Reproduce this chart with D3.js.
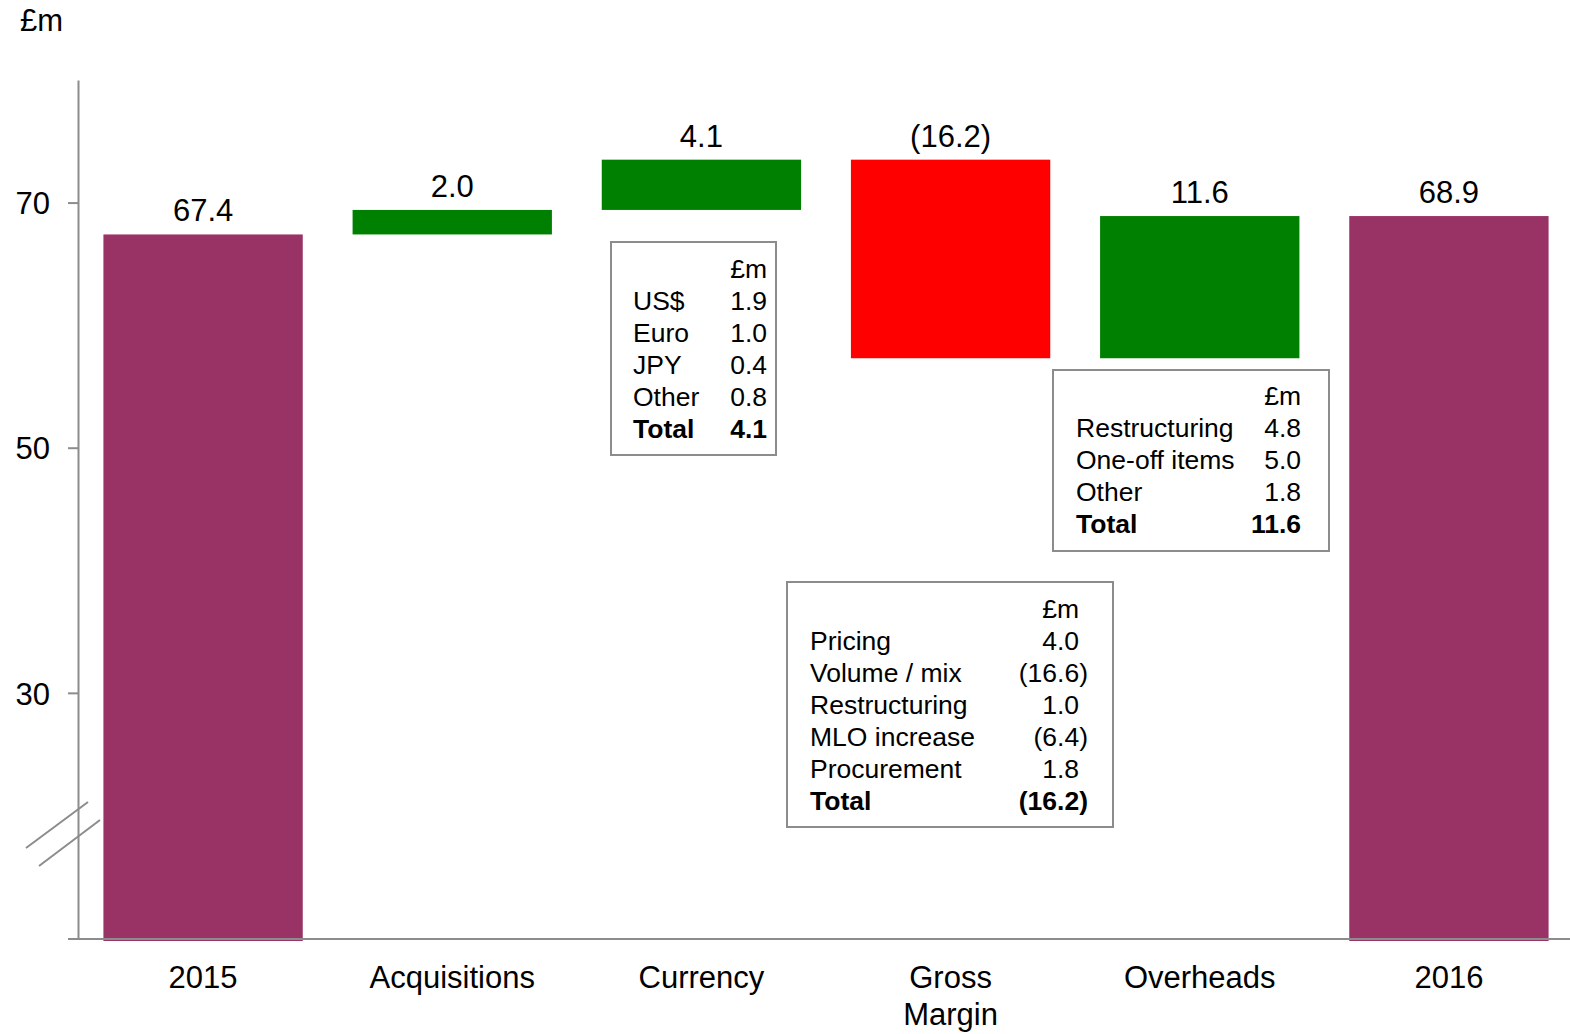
<!DOCTYPE html>
<html>
<head>
<meta charset="utf-8">
<script src="https://cdn.jsdelivr.net/npm/d3@7"></script>
<style>
  html, body { margin: 0; padding: 0; background: #fff; }
  svg { display: block; font-family: "Liberation Sans", Arial, sans-serif; }
</style>
</head>
<body>
<svg id="chart" width="1570" height="1034"></svg>
<script>
// ---- data ----
const categories = ["2015", "Acquisitions", "Currency", "Gross Margin", "Overheads", "2016"];
const startValue = 67.4;
const deltas = [2.0, 4.1, -16.2, 11.6];
const endValue = 68.9;
const yTicks = [30, 50, 70];
const yDomain = [10, 80];
const unitLabel = "£m";

const currencyItems = ["US$", "Euro", "JPY", "Other"];
const currencyValues = [1.9, 1.0, 0.4, 0.8];
const currencyTotal = 4.1;

const grossItems = ["Pricing", "Volume / mix", "Restructuring", "MLO increase", "Procurement"];
const grossValues = [4.0, -16.6, 1.0, -6.4, 1.8];
const grossTotal = -16.2;

const overheadItems = ["Restructuring", "One-off items", "Other"];
const overheadValues = [4.8, 5.0, 1.8];
const overheadTotal = 11.6;

// ---- colours ----
const colTotal = "#993366", colUp = "#008000", colDown = "#ff0000", colAxis = "#8c8c8c";

// ---- build waterfall rows ----
const rows = [];
let run = startValue;
rows.push({cat: categories[0], lo: yDomain[0], hi: startValue, label: startValue, color: colTotal, total: true});
deltas.forEach((d, i) => {
  const a = run, b = run + d;
  rows.push({cat: categories[i + 1], lo: Math.min(a, b), hi: Math.max(a, b), label: d, color: d >= 0 ? colUp : colDown, total: false});
  run = b;
});
rows.push({cat: categories[5], lo: yDomain[0], hi: endValue, label: endValue, color: colTotal, total: true});

const fmt = v => v < 0 ? "(" + Math.abs(v).toFixed(1) + ")" : v.toFixed(1);

const svg = d3.select("#chart");
const W = 1570;

const x = d3.scaleBand().domain(categories).range([78.5, 1573.5]).paddingInner(0.2).paddingOuter(0.1);
const y = d3.scaleLinear().domain(yDomain).range([938, 80]);

// unit label
svg.append("text").attr("x", 20).attr("y", 31).attr("font-size", 31).attr("fill", "#000").text(unitLabel);

// bars
svg.append("g").selectAll("rect").data(rows).join("rect")
  .attr("x", d => x(d.cat))
  .attr("width", x.bandwidth())
  .attr("y", d => y(d.hi))
  .attr("height", d => y(d.lo) - y(d.hi) + (d.total ? 3 : 0))
  .attr("fill", d => d.color);

// value labels
svg.append("g").selectAll("text").data(rows).join("text")
  .attr("x", d => x(d.cat) + x.bandwidth() / 2)
  .attr("y", d => y(d.hi) - 13)
  .attr("text-anchor", "middle")
  .attr("font-size", 31)
  .attr("fill", "#000")
  .text(d => fmt(d.label));

// y axis
const yAxis = d3.axisLeft(y).tickValues(yTicks).tickSize(10).tickSizeOuter(0).tickPadding(18).tickFormat(d3.format("d"));
const gy = svg.append("g").attr("transform", "translate(78,0)").call(yAxis);
gy.select(".domain").attr("stroke", colAxis).attr("stroke-width", 2);
gy.selectAll(".tick line").attr("stroke", colAxis).attr("stroke-width", 2);
gy.selectAll(".tick text").attr("font-size", 31).attr("fill", "#000").attr("font-family", "Liberation Sans, Arial, sans-serif").attr("dy", "0.36em");

// baseline
svg.append("line").attr("x1", 68).attr("x2", W).attr("y1", y(yDomain[0]) + 1).attr("y2", y(yDomain[0]) + 1)
  .attr("stroke", colAxis).attr("stroke-width", 2);

// axis break marks
const brk = svg.append("g").attr("stroke", colAxis).attr("stroke-width", 2);
brk.append("line").attr("x1", 26).attr("y1", 848).attr("x2", 88).attr("y2", 802);
brk.append("line").attr("x1", 39).attr("y1", 866).attr("x2", 100).attr("y2", 820);

// category labels
const xAxis = d3.axisBottom(x).tickSize(0).tickPadding(0).tickFormat("");
const gx = svg.append("g").attr("transform", `translate(0,${y(yDomain[0])})`).call(xAxis);
gx.select(".domain").remove();
gx.selectAll(".tick").each(function(d) {
  const t = d3.select(this).append("text").attr("text-anchor", "middle").attr("font-size", 31).attr("fill", "#000")
    .attr("font-family", "Liberation Sans, Arial, sans-serif");
  const parts = d === "Gross Margin" ? ["Gross", "Margin"] : [d];
  parts.forEach((p, i) => t.append("tspan").attr("x", 0).attr("y", 50 + i * 37).text(p));
});

// breakdown tables
function table(box, items, values, total) {
  const g = svg.append("g");
  g.append("rect").attr("x", box.x).attr("y", box.y).attr("width", box.w).attr("height", box.h)
    .attr("fill", "#fff").attr("stroke", colAxis).attr("stroke-width", 2);
  const fs = 26.5, lh = 32;
  const valX = v => v < 0 ? box.valR + 9 : box.valR;
  g.append("text").attr("x", box.valR).attr("y", box.first).attr("text-anchor", "end").attr("font-size", fs).text(unitLabel);
  items.forEach((it, i) => {
    const yy = box.first + (i + 1) * lh;
    g.append("text").attr("x", box.labX).attr("y", yy).attr("font-size", fs).text(it);
    g.append("text").attr("x", valX(values[i])).attr("y", yy).attr("text-anchor", "end").attr("font-size", fs).text(fmt(values[i]));
  });
  const yt = box.first + (items.length + 1) * lh;
  g.append("text").attr("x", box.labX).attr("y", yt).attr("font-size", fs).attr("font-weight", "bold").text("Total");
  g.append("text").attr("x", valX(total)).attr("y", yt).attr("text-anchor", "end").attr("font-size", fs).attr("font-weight", "bold").text(fmt(total));
}

table({x: 611, y: 242, w: 165, h: 213, labX: 633, valR: 767, first: 278}, currencyItems, currencyValues, currencyTotal);
table({x: 787, y: 582, w: 326, h: 245, labX: 810, valR: 1079, first: 618}, grossItems, grossValues, grossTotal);
table({x: 1053, y: 370, w: 276, h: 181, labX: 1076, valR: 1301, first: 405}, overheadItems, overheadValues, overheadTotal);
</script>
</body>
</html>
